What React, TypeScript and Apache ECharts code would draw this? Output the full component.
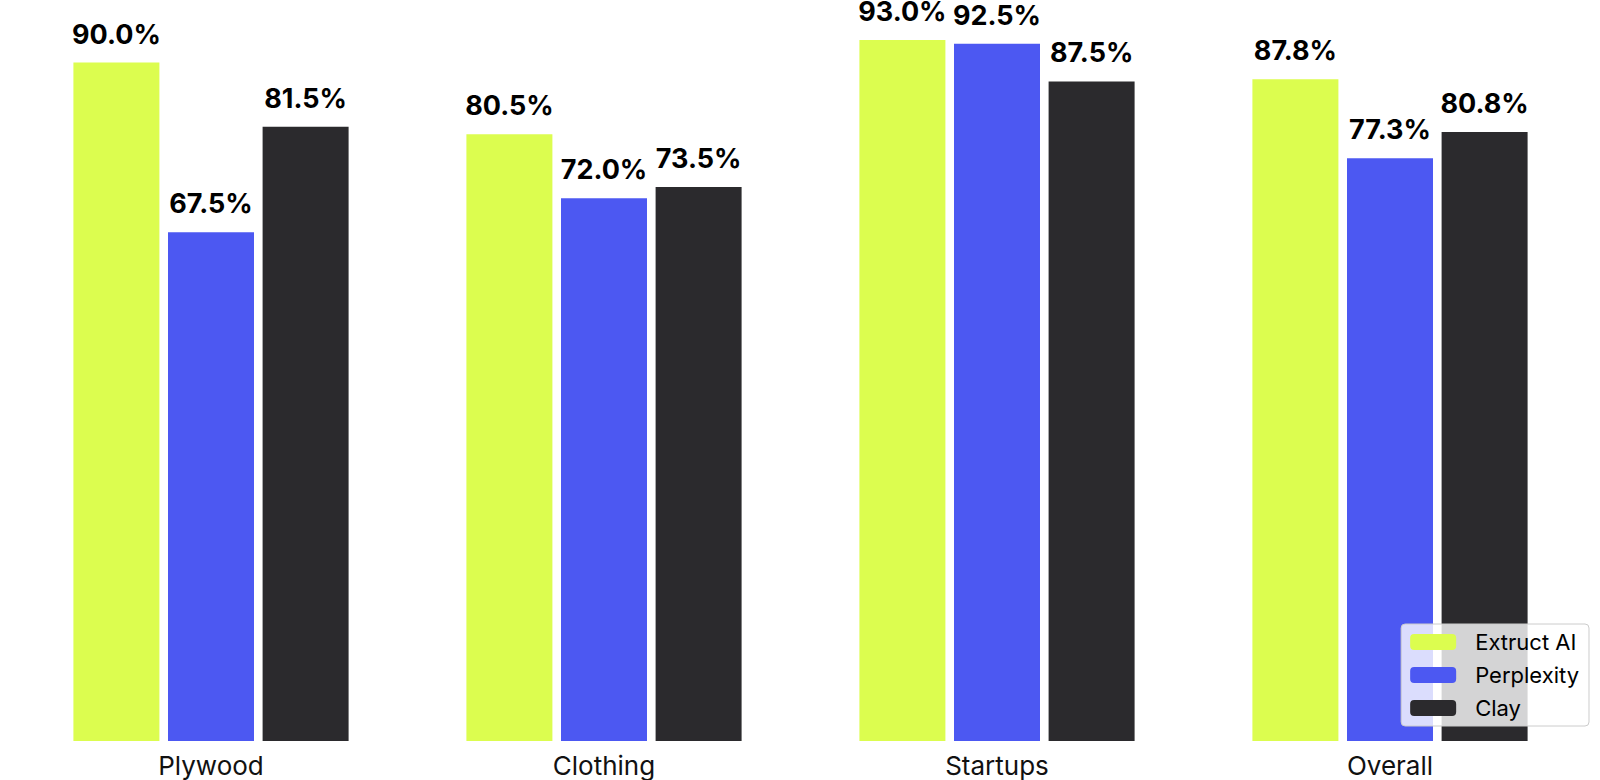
import { useEffect, useRef } from 'react'
import * as echarts from 'echarts'

const categories = ['Plywood', 'Clothing', 'Startups', 'Overall']
const extructAI = [90.0, 80.5, 93.0, 87.8]
const perplexity = [67.5, 72.0, 92.5, 77.3]
const clay = [81.5, 73.5, 87.5, 80.8]

const FONT = 'Inter, "Noto Sans", sans-serif'

export default function App() {
  const chartRef = useRef<HTMLDivElement>(null)

  useEffect(() => {
    if (!chartRef.current) return
    const chart = echarts.init(chartRef.current, null, { renderer: 'svg' })

    const label = {
      show: true,
      position: 'top',
      distance: 15,
      formatter: (p: any) => `${Number(p.value).toFixed(1)}%`,
      fontFamily: FONT,
      fontSize: 27,
      fontWeight: 'bold',
      color: '#000'
    }

    const option = {
      animation: false,
      backgroundColor: '#ffffff',
      textStyle: { fontFamily: FONT },
      grid: { left: 14.5, right: 13.5, top: 0, bottom: 39 },
      legend: {
        data: ['Extruct AI', 'Perplexity', 'Clay'],
        orient: 'vertical',
        right: 11,
        top: 624,
        z: 10,
        itemWidth: 46,
        itemHeight: 16,
        itemGap: 11,
        padding: [7, 10, 7, 9],
        backgroundColor: 'rgba(255,255,255,0.8)',
        borderColor: '#cccccc',
        borderWidth: 1,
        borderRadius: 4,
        textStyle: {
          fontFamily: FONT,
          fontSize: 22,
          color: '#000',
          padding: [0, 0, 0, 14]
        }
      },
      xAxis: {
        type: 'category',
        data: categories,
        axisLine: { show: false },
        axisTick: { show: false },
        axisLabel: { fontFamily: FONT, fontSize: 26, color: '#111', margin: 11 }
      },
      yAxis: {
        type: 'value',
        min: 0,
        max: 98.3,
        show: false,
        splitLine: { show: false }
      },
      series: [
        {
          name: 'Extruct AI',
          type: 'bar',
          data: extructAI,
          barWidth: 86,
          barGap: '10%',
          itemStyle: { color: '#dcfd4f' },
          label
        },
        {
          name: 'Perplexity',
          type: 'bar',
          data: perplexity,
          barWidth: 86,
          barGap: '10%',
          itemStyle: { color: '#4c58f2' },
          label
        },
        {
          name: 'Clay',
          type: 'bar',
          data: clay,
          barWidth: 86,
          barGap: '10%',
          itemStyle: { color: '#2b2a2d' },
          label
        }
      ]
    }

    chart.setOption(option)

    return () => {
      chart.dispose()
    }
  }, [])

  return (
    <div
      ref={chartRef}
      style={{ position: 'fixed', left: 0, top: 0, width: '1600px', height: '780px' }}
    />
  )
}
